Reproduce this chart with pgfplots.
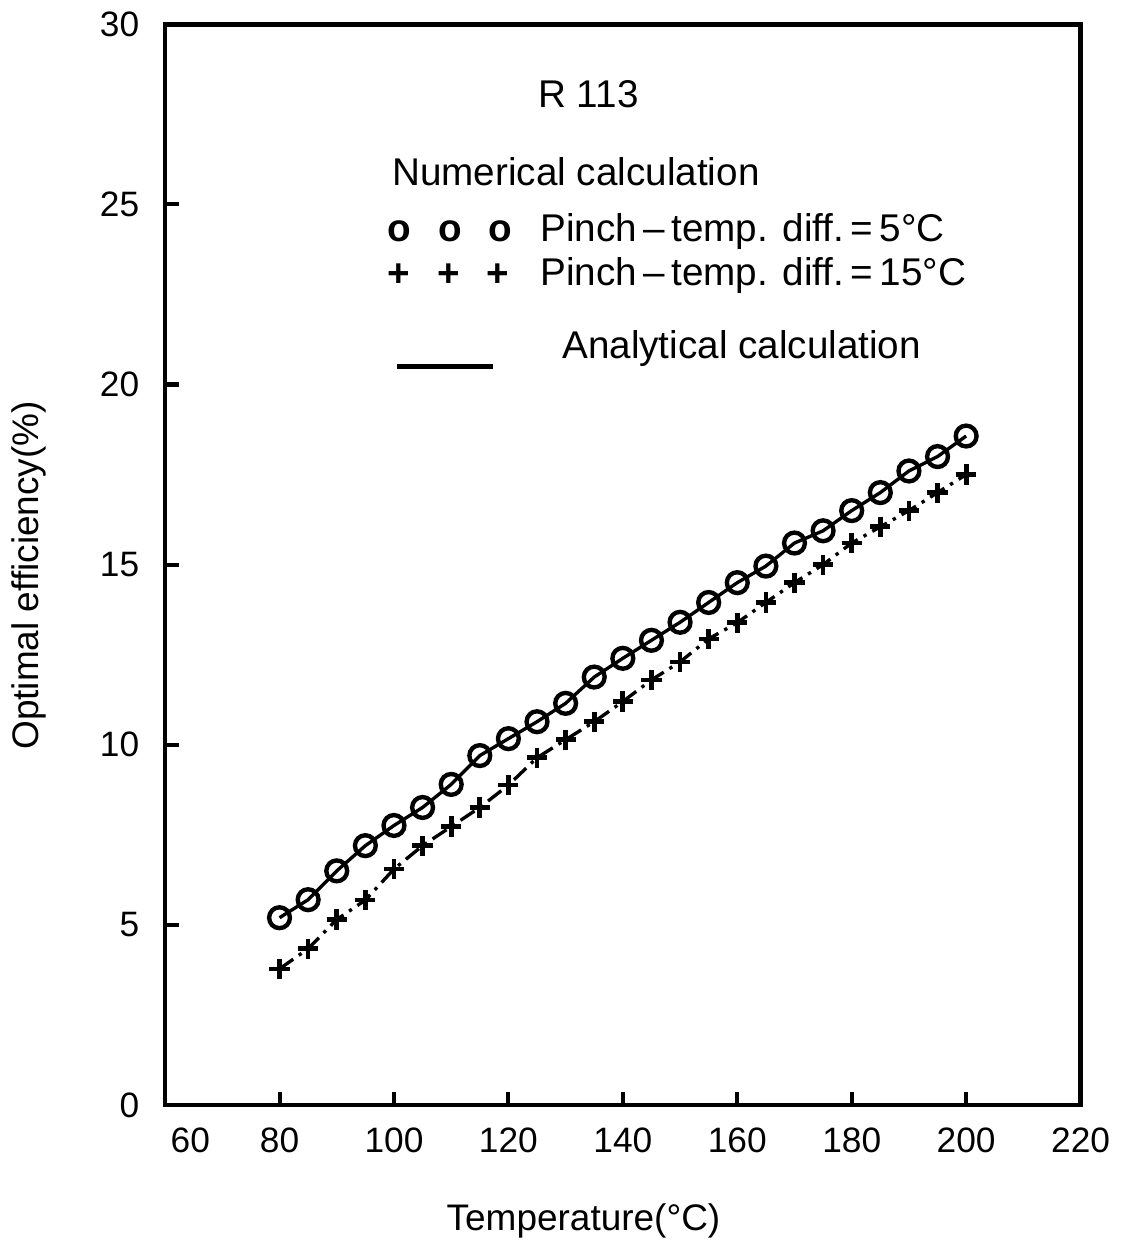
\documentclass[border=0pt]{standalone}
\usepackage{pgfplots}
\pgfplotsset{compat=1.18}
\usepackage{fontspec}
\setmainfont{Liberation Sans}
\begin{document}
\fontsize{10.5pt}{12pt}\selectfont
\begin{tikzpicture}
\begin{axis}[
  scale only axis,
  width=272.4pt, height=321.6pt,
  xmin=60, xmax=220, ymin=0, ymax=30,
  xtick={60,80,...,220},
  xticklabels={\hspace*{15pt}60,80,100,120,140,160,180,200,220},
  ytick={0,5,...,30},
  xtick pos=left, ytick pos=left,
  tick align=inside,
  major tick length=4pt,
  tick style={line width=1.2pt, black},
  axis line style={line width=1.4pt},
  /pgf/number format/assume math mode=true,
  ticklabel style={font=\fontsize{10.5pt}{12pt}\selectfont},
  yticklabel style={xshift=-4pt},
  xticklabel style={yshift=-3pt},
  xlabel={Temperature(°C)},
  ylabel={Optimal efficiency(\%)},
  xlabel style={at={(rel axis cs:0.457,0)}, anchor=center, yshift=-34.5pt, font=\fontsize{11pt}{13pt}\selectfont},
  ylabel style={at={(rel axis cs:0,0.49)}, anchor=center, yshift=40.5pt, font=\fontsize{11pt}{13pt}\selectfont},
  clip=false,
]
% Pinch-temp diff = 5 C
\addplot[black, line width=1pt, mark=o, mark size=3.1pt, mark options={line width=1.3pt, solid}] coordinates {
(80,5.2) (85,5.7) (90,6.5) (95,7.2) (100,7.76) (105,8.26) (110,8.9) (115,9.7)
(120,10.17) (125,10.64) (130,11.15) (135,11.88) (140,12.4) (145,12.9) (150,13.4)
(155,13.95) (160,14.5) (165,14.96) (170,15.6) (175,15.94) (180,16.5) (185,17.0)
(190,17.6) (195,18.0) (200,18.57)
};
% Pinch-temp diff = 15 C
\addplot[black, line width=1pt, dash pattern=on 5pt off 2pt on 1pt off 2pt, mark=+, mark size=3pt, mark options={line width=1.4pt, solid}] coordinates {
(80,3.78) (85,4.34) (90,5.15) (95,5.69) (100,6.55) (105,7.2) (110,7.73) (115,8.26)
(120,8.88) (125,9.64) (130,10.14) (135,10.64) (140,11.2) (145,11.8) (150,12.3)
(155,12.94) (160,13.39) (165,13.95) (170,14.5) (175,15.0) (180,15.6) (185,16.05)
(190,16.5) (195,17.0) (200,17.5)
};
\node[anchor=center, font=\fontsize{11.5pt}{13pt}\selectfont] at (axis cs:134,28.07) {R 113};
\node[anchor=west, inner sep=0pt, font=\fontsize{11.5pt}{13pt}\selectfont] at (axis cs:99.6,25.9) {Numerical calculation};
\node[anchor=west, inner sep=0pt, font=\fontsize{11.5pt}{13pt}\selectfont] at (axis cs:98.8,24.24) {\textbf{o\hspace{8pt}o\hspace{8pt}o}};
\node[anchor=west, inner sep=0pt, font=\fontsize{11.5pt}{13pt}\selectfont] at (axis cs:125.5,24.24) {Pinch\,--\,temp. diff.\,=\,5°C};
\node[anchor=west, inner sep=0pt, font=\fontsize{11.5pt}{13pt}\selectfont] at (axis cs:98.8,23.03) {\textbf{+\hspace{8pt}+\hspace{8pt}+}};
\node[anchor=west, inner sep=0pt, font=\fontsize{11.5pt}{13pt}\selectfont] at (axis cs:125.5,23.03) {Pinch\,--\,temp. diff.\,=\,15°C};
\draw[line width=1.3pt] (axis cs:100.5,20.5) -- (axis cs:117.3,20.5);
\node[anchor=west, inner sep=0pt, font=\fontsize{11.5pt}{13pt}\selectfont] at (axis cs:129.3,20.99) {Analytical calculation};
\end{axis}
\end{tikzpicture}
\end{document}
